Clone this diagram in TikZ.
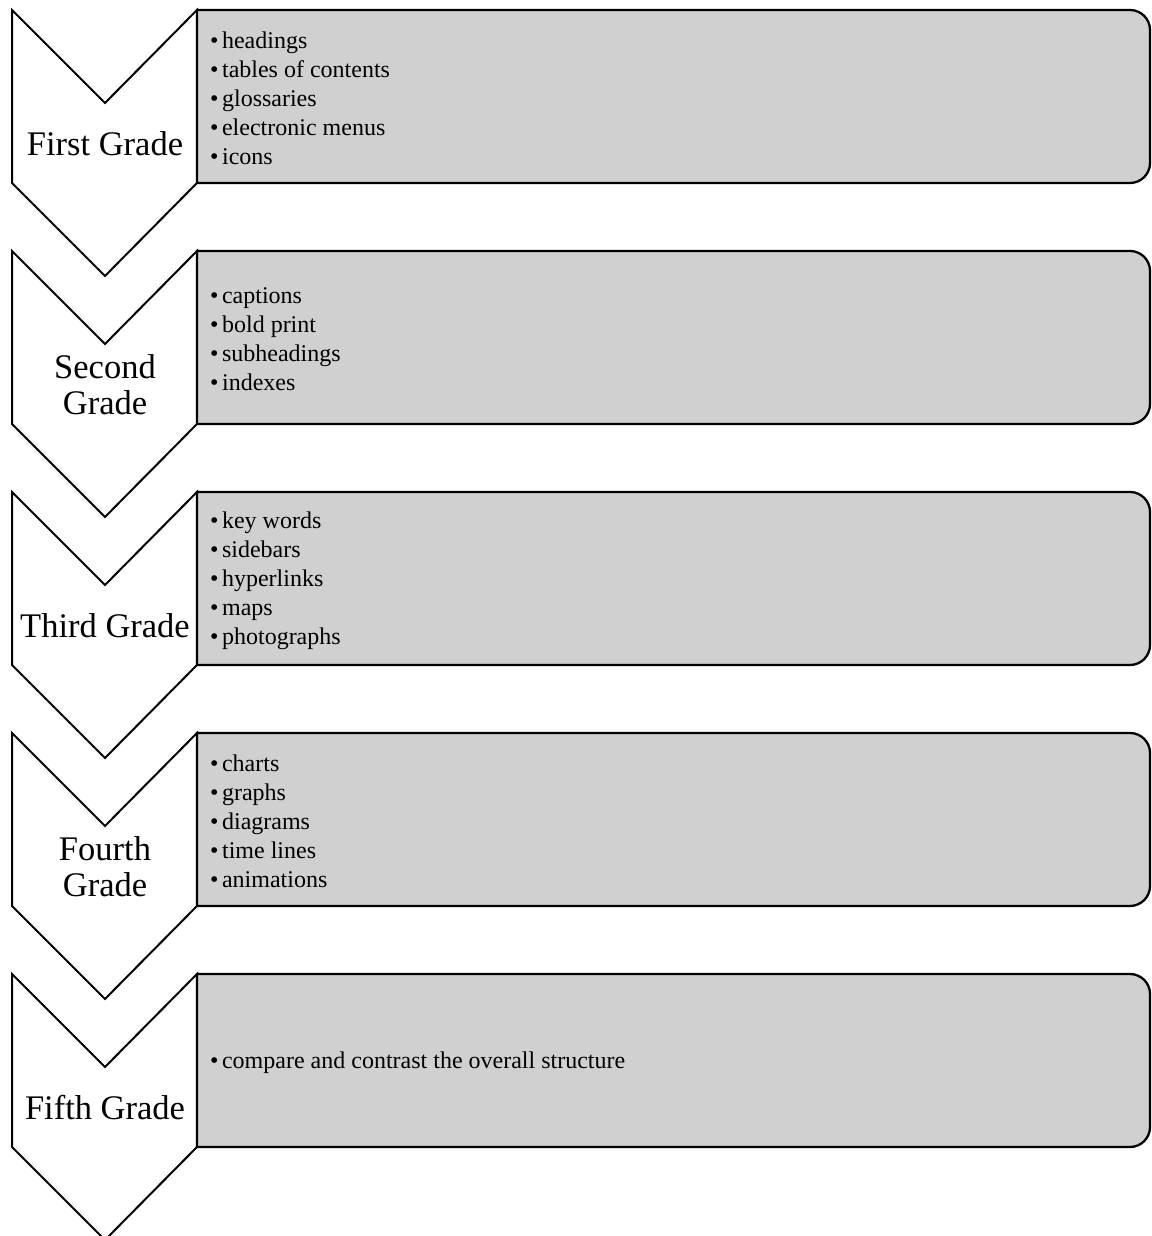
\documentclass[tikz,border=0pt]{standalone}
\usepackage{fontspec}
\setmainfont{Liberation Serif}
\definecolor{panelgray}{RGB}{208,208,208}
\tikzset{
  chev/.style={draw=black,line width=2pt,fill=white,line join=miter},
  panel/.style={draw=black,line width=2.3pt,fill=panelgray},
  grade/.style={font=\fontsize{34.5}{36}\selectfont,align=center,inner sep=0pt},
  items/.style={font=\fontsize{24}{28.9}\selectfont,align=left,anchor=west,inner sep=0pt}
}
\newcommand\gradeblock[4]{%
  \pgfmathsetmacro\T{1236-#2}%
  \draw[chev] (12,\T) -- (105,\T-93) -- (197,\T) -- (197,\T-173) -- (105,\T-266) -- (12,\T-173) -- cycle;
  \draw[panel] (197,\T) -- (1130,\T) arc[start angle=90,end angle=0,radius=20pt]
     -- (1150,\T-153) arc[start angle=0,end angle=-90,radius=20pt] -- (197,\T-173) -- cycle;
  \node[grade] (g#1) at (105,\T-134) {#3};
  \node[items] (i#1) at (210,\T-88.5) {#4};
}
\newcommand\bul{\textbullet\hspace{3.5pt}}
\begin{document}
\begin{tikzpicture}[x=1pt,y=1pt]
\useasboundingbox (0,0) rectangle (1151,1236);
\gradeblock{1}{10}{First Grade}{\bul headings\\\bul tables of contents\\\bul glossaries\\\bul electronic menus\\\bul icons}
\gradeblock{2}{251}{Second\\Grade}{\bul captions\\\bul bold print\\\bul subheadings\\\bul indexes}
\gradeblock{3}{492}{Third Grade}{\bul key words\\\bul sidebars\\\bul hyperlinks\\\bul maps\\\bul photographs}
\gradeblock{4}{733}{Fourth\\Grade}{\bul charts\\\bul graphs\\\bul diagrams\\\bul time lines\\\bul animations}
\gradeblock{5}{974}{Fifth Grade}{\bul compare and contrast the overall structure}
\end{tikzpicture}
\end{document}
